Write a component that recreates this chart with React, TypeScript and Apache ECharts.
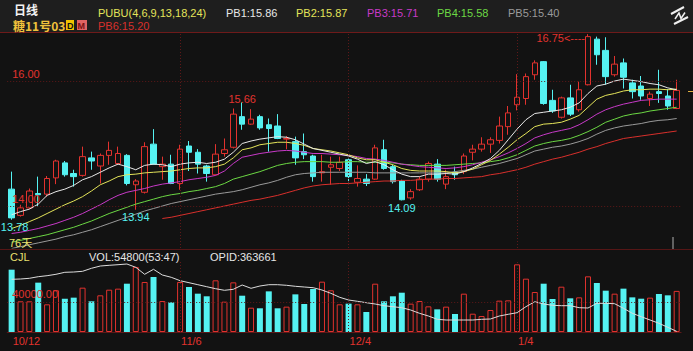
import React, { useEffect, useRef } from 'react';
import * as echarts from 'echarts';

// ---------- data ----------
const dates = [
  '10/12','10/13','10/14','10/15','10/16','10/19','10/20','10/21','10/22','10/23',
  '10/26','10/27','10/28','10/29','10/30','11/2','11/3','11/4','11/5','11/6',
  '11/9','11/10','11/11','11/12','11/13','11/16','11/17','11/18','11/19','11/20',
  '11/23','11/24','11/25','11/27','11/30','12/1','12/2','12/3','12/4','12/7',
  '12/8','12/9','12/10','12/11','12/14','12/15','12/16','12/17','12/18','12/21',
  '12/22','12/23','12/24','12/28','12/29','12/30','12/31','1/4','1/5','1/6',
  '1/7','1/8','1/11','1/12','1/13','1/14','1/15','1/19','1/20','1/21',
  '1/22','1/25','1/26','1/27','1/28','1/29',
];
const labelIdx = [0, 19, 38, 57];

const open = [
  14.27,13.85,13.97,14.20,14.19,14.45,14.69,14.52,14.49,14.77,
  14.64,14.81,14.68,14.81,14.34,14.22,14.99,14.63,14.67,14.36,
  14.96,14.86,14.64,14.50,14.84,14.94,15.43,15.31,15.43,15.30,
  15.28,15.07,15.03,14.87,14.80,14.53,14.62,14.60,14.74,14.38,
  14.43,14.43,14.90,14.63,14.40,14.13,14.26,14.43,14.67,14.35,
  14.54,14.55,14.86,14.91,14.99,15.05,15.27,15.62,15.72,16.10,
  16.31,15.69,15.42,15.73,15.54,15.94,16.67,16.49,16.10,16.29,
  15.97,15.92,15.72,15.83,15.76,15.56,
];
const close = [
  13.81,13.97,14.24,14.18,14.44,14.72,14.50,14.47,14.79,14.72,
  14.81,14.89,14.84,14.36,14.40,14.95,14.67,14.67,14.36,14.91,
  14.86,14.67,14.52,14.83,14.90,15.47,15.31,15.39,15.25,15.24,
  15.08,15.08,14.77,14.82,14.47,14.55,14.66,14.70,14.47,14.44,
  14.36,14.93,14.60,14.39,14.10,14.23,14.43,14.68,14.43,14.47,
  14.50,14.80,14.91,14.99,15.06,15.28,15.49,15.74,16.07,16.29,
  15.64,15.52,15.73,15.47,15.86,16.71,16.42,16.07,16.27,16.06,
  15.83,15.76,15.79,15.80,15.60,15.85,
];
const low = [
  13.78,13.83,13.95,13.99,14.15,14.35,14.47,14.31,14.47,14.58,
  14.36,14.66,14.66,14.33,13.94,14.20,14.66,14.42,14.35,14.26,
  14.56,14.52,14.39,14.49,14.79,14.92,15.22,15.30,15.22,14.87,
  15.07,14.91,14.66,14.75,14.39,14.39,14.34,14.56,14.38,14.31,
  14.32,14.42,14.58,14.36,14.09,14.10,14.24,14.39,14.39,14.27,
  14.42,14.51,14.73,14.87,14.85,15.00,15.14,15.53,15.62,16.02,
  15.62,15.49,15.40,15.44,15.51,15.93,16.26,15.94,16.07,15.88,
  15.72,15.70,15.60,15.65,15.54,15.55,
];
const high = [
  14.55,14.02,14.28,14.47,14.48,14.74,14.72,14.58,14.95,14.87,
  14.84,15.03,14.95,14.83,14.43,15.02,15.23,14.79,14.82,14.98,
  15.04,14.91,14.66,14.99,15.08,15.56,15.66,15.55,15.46,15.40,
  15.47,15.12,15.11,15.16,14.82,14.82,14.79,14.79,14.76,14.65,
  14.51,14.98,15.06,14.66,14.42,14.27,14.47,14.71,14.75,14.58,
  14.63,14.84,14.98,15.10,15.10,15.43,15.60,16.11,16.12,16.33,
  16.32,15.86,15.75,15.94,15.99,16.75,16.71,16.70,16.40,16.36,
  16.02,16.08,15.83,16.18,15.87,16.02,
];

const pb1 = [
  13.86,13.91,13.95,14.03,14.17,14.23,14.27,14.33,14.42,14.47,
  14.54,14.61,14.67,14.63,14.58,14.65,14.67,14.66,14.63,14.67,
  14.69,14.70,14.68,14.70,14.75,14.86,15.00,15.04,15.07,15.09,
  15.11,15.10,15.06,14.99,14.92,14.89,14.86,14.83,14.80,14.75,
  14.68,14.71,14.66,14.58,14.51,14.47,14.47,14.51,14.51,14.52,
  14.51,14.55,14.61,14.68,14.76,14.89,15.06,15.23,15.38,15.48,
  15.50,15.52,15.54,15.58,15.65,15.80,15.92,15.95,16.00,16.03,
  16.01,15.99,15.96,15.94,15.89,15.86,
];
const pb2 = [
  13.64,13.69,13.75,13.81,13.88,13.95,14.02,14.08,14.15,14.24,
  14.34,14.40,14.47,14.50,14.51,14.53,14.54,14.55,14.56,14.58,
  14.60,14.61,14.61,14.63,14.67,14.77,14.90,14.93,14.98,15.00,
  15.02,15.02,15.00,14.97,14.92,14.90,14.88,14.85,14.82,14.77,
  14.74,14.74,14.70,14.66,14.60,14.57,14.56,14.56,14.56,14.55,
  14.53,14.55,14.59,14.66,14.73,14.83,14.94,15.06,15.16,15.27,
  15.31,15.32,15.34,15.39,15.45,15.58,15.71,15.77,15.80,15.84,
  15.86,15.86,15.87,15.87,15.86,15.87,
];
const pb3 = [
  13.56,13.58,13.61,13.64,13.68,13.72,13.77,13.82,13.88,13.95,
  14.02,14.10,14.17,14.22,14.25,14.28,14.32,14.35,14.37,14.39,
  14.42,14.44,14.46,14.49,14.56,14.68,14.78,14.81,14.84,14.86,
  14.88,14.89,14.88,14.86,14.84,14.84,14.83,14.82,14.81,14.79,
  14.76,14.75,14.73,14.70,14.67,14.65,14.63,14.62,14.61,14.60,
  14.61,14.63,14.66,14.70,14.74,14.79,14.85,14.92,15.00,15.09,
  15.14,15.18,15.21,15.24,15.30,15.38,15.47,15.54,15.59,15.63,
  15.66,15.69,15.70,15.71,15.71,15.71,
];
const pb4 = [
  13.42,13.45,13.48,13.51,13.54,13.58,13.62,13.66,13.71,13.76,
  13.82,13.88,13.93,13.98,14.03,14.07,14.11,14.15,14.18,14.20,
  14.23,14.25,14.28,14.31,14.36,14.43,14.47,14.51,14.55,14.60,
  14.65,14.68,14.70,14.71,14.71,14.71,14.70,14.70,14.71,14.71,
  14.70,14.70,14.70,14.69,14.67,14.66,14.65,14.65,14.65,14.65,
  14.66,14.67,14.68,14.69,14.71,14.73,14.77,14.82,14.89,14.96,
  15.00,15.03,15.05,15.08,15.13,15.19,15.26,15.34,15.39,15.44,
  15.47,15.49,15.52,15.54,15.56,15.58,
];
const pb5 = [
  13.32,13.35,13.38,13.41,13.44,13.47,13.51,13.54,13.58,13.62,
  13.67,13.72,13.77,13.82,13.87,13.92,13.96,14.00,14.04,14.07,
  14.10,14.13,14.16,14.19,14.21,14.23,14.26,14.30,14.34,14.37,
  14.41,14.46,14.50,14.52,14.53,14.54,14.54,14.54,14.54,14.54,
  14.54,14.53,14.53,14.53,14.53,14.53,14.53,14.53,14.53,14.53,
  14.55,14.57,14.59,14.62,14.65,14.68,14.72,14.76,14.82,14.88,
  14.91,14.94,14.96,14.99,15.03,15.08,15.15,15.21,15.25,15.28,
  15.30,15.32,15.35,15.37,15.38,15.40,
];
const pb6 = [
  null,null,null,null,null,null,null,null,null,null,
  null,null,null,null,null,null,null,13.80,13.82,13.85,
  13.88,13.91,13.94,13.97,14.00,14.03,14.06,14.09,14.11,14.14,
  14.17,14.21,14.25,14.29,14.32,14.34,14.35,14.36,14.36,14.37,
  14.38,14.39,14.40,14.40,14.41,14.41,14.42,14.43,14.43,14.44,
  14.44,14.45,14.46,14.47,14.50,14.52,14.55,14.58,14.62,14.67,
  14.71,14.75,14.78,14.82,14.86,14.91,14.95,15.00,15.04,15.08,
  15.10,15.12,15.14,15.16,15.18,15.20,
];

const vol = [
  83100,40900,40900,65800,36900,55600,44400,45800,59100,40900,
  48900,56400,57800,64400,86700,66700,73300,41300,39600,66700,
  60000,51100,47600,68900,40400,66200,48400,32400,31600,54200,
  31600,33800,50200,37300,57300,67100,55600,36900,37800,36900,
  26700,64400,40900,47600,52400,37800,41300,34200,30200,33800,
  24000,51100,24400,21300,29300,41800,42200,90200,71100,53300,
  64400,44000,60400,44900,46200,74200,65300,55100,51100,57800,
  46200,44400,45800,50700,48900,54800,
];
const oi = [
  415700,416000,416700,418300,419300,420700,422700,423000,423700,426700,
  429000,429700,430300,431000,427700,420700,425700,420000,417700,414300,
  412300,410300,408300,406300,404700,405700,410000,406700,409000,410300,
  410300,409700,408700,408000,407300,405000,401700,397700,395000,393700,
  392300,391000,389300,388300,387300,385000,381700,379000,375700,375000,
  375000,375000,375000,375700,376000,379000,380700,382300,388300,393300,
  391000,389700,389300,389300,387300,387000,391700,391700,391300,386700,
  381700,378300,375000,371700,367700,363661,
];
const volGridValue = 40000;
const priceGridValues = [16, 14];
const indicatorName = 'PUBU(4,6,9,13,18,24)';
const contractName = '糖11号03';
const periodName = '日线';
const buySell = '53:47';

// ---------- styles ----------
const BG = '#121212';
const HEAD_BG = '#1e1e1e';
const RED = '#e2322e';
const CYAN = '#55f2f2';
const GRID_RED = '#5e1818';
const FONT = '"Liberation Sans", Arial, sans-serif';
const CJK = '"Noto Sans CJK SC", sans-serif';
const C_PB1 = '#e8e8e8';
const C_PB2 = '#e4e45a';
const C_PB3 = '#c83ac8';
const C_PB4 = '#6cd844';
const C_PB5 = '#9a9a9a';
const C_PB6 = '#d8302c';
const YELLOW = '#e8e070';

const txt = (text: string, x: number, y: number, fill: string, size = 11, weight = 'normal', family = FONT) => ({
  type: 'text', x, y, silent: true, z: 50,
  style: { text, fill, font: `${weight} ${size}px ${family}`, verticalAlign: 'middle', textVerticalAlign: 'middle' },
});

export default function App() {
  const ref = useRef<HTMLDivElement>(null);
  useEffect(() => {
    const chart = echarts.init(ref.current!, null, { renderer: 'svg' });
    const last = dates.length - 1;
    const gridLeft = 7.2;
    const gridRight = 11.9;
    const nulls = dates.map(() => null);
    const vLines = [19, 38, 57].map((i) => ({ xAxis: dates[i], label: { show: false } }));
    const lineSeries = (data: (number | null)[], color: string) => ({
      type: 'line', data, xAxisIndex: 0, yAxisIndex: 0, symbol: 'none', z: 4, silent: true,
      lineStyle: { color, width: 1 }, connectNulls: false,
    });
    const ptLabel = (color: string, position: string, text: string, extra: any = {}) => ({
      show: true, position, color, fontSize: 11, fontFamily: FONT, formatter: text, distance: 2, ...extra,
    });

    const option: any = {
      animation: false,
      backgroundColor: BG,
      grid: [
        { left: gridLeft, right: gridRight, top: 33, height: 215 },
        { left: gridLeft, right: gridRight, top: 262, height: 70 },
      ],
      xAxis: [
        { type: 'category', gridIndex: 0, data: dates, boundaryGap: true, show: false },
        {
          type: 'category', gridIndex: 1, data: dates, boundaryGap: true,
          axisLine: { show: true, lineStyle: { color: GRID_RED } },
          axisTick: { show: false },
          splitLine: { show: false },
          axisLabel: {
            interval: (index: number) => labelIdx.includes(index),
            color: RED, fontSize: 11, fontFamily: FONT, align: 'left', margin: 3, padding: [0, 0, 0, 1],
          },
        },
      ],
      yAxis: [
        { type: 'value', gridIndex: 0, min: 13.328, max: 16.768, show: false },
        { type: 'value', gridIndex: 1, min: 0, max: 93333, show: false },
        { type: 'value', gridIndex: 1, min: 363000, max: 433000, show: false },
      ],
      series: [
        {
          type: 'line', data: nulls, xAxisIndex: 0, yAxisIndex: 0, z: 1, silent: true, symbol: 'none',
          markLine: {
            silent: true, symbol: ['none', 'none'], animation: false,
            lineStyle: { color: GRID_RED, width: 1, type: [1, 2] },
            label: {
              show: true, position: 'insideStartTop', color: RED, fontSize: 11, fontFamily: FONT,
              formatter: (p: any) => Number(p.value).toFixed(2), distance: [5, 2],
            },
            data: [...priceGridValues.map((v) => ({ yAxis: v })), ...vLines],
          },
        },
        {
          type: 'candlestick', xAxisIndex: 0, yAxisIndex: 0, z: 3, silent: true, barWidth: 6,
          data: dates.map((_, i) => [open[i], close[i], low[i], high[i]]),
          itemStyle: { color: 'transparent', color0: CYAN, borderColor: RED, borderColor0: CYAN, borderWidth: 1 },
          markPoint: {
            silent: true, symbol: 'circle', symbolSize: 0, itemStyle: { color: 'transparent' },
            data: [
              { coord: [dates[65], high[65]], label: ptLabel(RED, 'left', `${high[65].toFixed(2)}<----`, { distance: 3, offset: [0, 4] }) },
              { coord: [dates[26], high[26]], label: ptLabel(RED, 'top', high[26].toFixed(2), { distance: 0, offset: [0, 2] }) },
              { coord: [dates[0], low[0]], label: ptLabel(CYAN, 'bottom', low[0].toFixed(2), { offset: [3, 0] }) },
              { coord: [dates[14], low[14]], label: ptLabel(CYAN, 'bottom', low[14].toFixed(2)) },
              { coord: [dates[44], low[44]], label: ptLabel(CYAN, 'bottom', low[44].toFixed(2)) },
            ],
          },
        },
        lineSeries(pb6, C_PB6),
        lineSeries(pb5, C_PB5),
        lineSeries(pb4, C_PB4),
        lineSeries(pb3, C_PB3),
        lineSeries(pb2, C_PB2),
        lineSeries(pb1, C_PB1),
        {
          type: 'line', data: nulls, xAxisIndex: 1, yAxisIndex: 1, z: 1, silent: true, symbol: 'none',
          markLine: {
            silent: true, symbol: ['none', 'none'], animation: false,
            lineStyle: { color: GRID_RED, width: 1, type: [1, 2] },
            label: {
              show: true, position: 'insideStartTop', color: RED, fontSize: 11, fontFamily: FONT,
              formatter: (p: any) => Number(p.value).toFixed(2), distance: [5, 2],
            },
            data: [{ yAxis: volGridValue }, ...vLines],
          },
        },
        {
          type: 'bar', xAxisIndex: 1, yAxisIndex: 1, z: 3, silent: true, barWidth: 6,
          data: vol.map((v, i) => ({
            value: v,
            itemStyle: close[i] >= open[i]
              ? { color: 'transparent', borderColor: RED, borderWidth: 1 }
              : { color: CYAN },
          })),
        },
        {
          type: 'line', data: oi, xAxisIndex: 1, yAxisIndex: 2, z: 4, silent: true, symbol: 'none',
          lineStyle: { color: '#dcdcdc', width: 1 },
        },
      ],
      graphic: [
        { type: 'rect', silent: true, z: 0, shape: { x: 0, y: 0, width: 693, height: 32 }, style: { fill: HEAD_BG } },
        { type: 'line', silent: true, z: 1, shape: { x1: 0, y1: 32.5, x2: 693, y2: 32.5 }, style: { stroke: '#6e1a1a', lineWidth: 1 } },
        { type: 'line', silent: true, z: 1, shape: { x1: 0, y1: 249.5, x2: 693, y2: 249.5 }, style: { stroke: '#561616', lineWidth: 1 } },
        txt(periodName, 14, 9.5, '#f2f2f2', 12, 'bold', CJK),
        txt(contractName, 13, 25, '#f0c23c', 12, 'bold', CJK),
        { type: 'rect', silent: true, z: 50, shape: { x: 66, y: 20, width: 8, height: 10 }, style: { fill: '#f0c400' } },
        txt('D', 67, 25.5, '#111111', 9, 'bold'),
        { type: 'rect', silent: true, z: 50, shape: { x: 77, y: 20, width: 10, height: 10 }, style: { fill: '#e26464' } },
        txt('M', 77.6, 25.5, '#7a1212', 9, 'bold'),
        txt(indicatorName, 98, 12.5, C_PB2),
        txt(`PB6:${pb6[last]!.toFixed(2)}`, 98, 25.5, C_PB6),
        txt(`PB1:${pb1[last].toFixed(2)}`, 226, 12.5, C_PB1),
        txt(`PB2:${pb2[last].toFixed(2)}`, 296, 12.5, C_PB2),
        txt(`PB3:${pb3[last].toFixed(2)}`, 367, 12.5, C_PB3),
        txt(`PB4:${pb4[last].toFixed(2)}`, 437, 12.5, C_PB4),
        txt(`PB5:${pb5[last].toFixed(2)}`, 508, 12.5, C_PB5),
        { type: 'line', silent: true, z: 50, shape: { x1: 671, y1: 14, x2: 684, y2: 7 }, style: { stroke: '#f0f0f0', lineWidth: 2 } },
        { type: 'line', silent: true, z: 50, shape: { x1: 674, y1: 24, x2: 688, y2: 17 }, style: { stroke: '#f0f0f0', lineWidth: 2 } },
        { type: 'polyline', silent: true, z: 50, shape: { points: [[675, 19], [679, 13], [681, 18.5], [685, 12.5]] }, style: { stroke: '#f0f0f0', lineWidth: 1.5, fill: 'none' } },
        txt(`${dates.length}天`, 9, 241.5, YELLOW, 11, 'normal', CJK),
        txt('CJL', 10, 257, YELLOW),
        txt(`VOL:${vol[last]}(${buySell})`, 89, 257, '#e6e6e6'),
        txt(`OPID:${oi[last]}`, 210, 257, '#e6e6e6'),
        { type: 'line', silent: true, z: 50, shape: { x1: 673, y1: 237, x2: 673, y2: 249 }, style: { stroke: '#b0b0b0', lineWidth: 1 } },
        { type: 'line', silent: true, z: 50, shape: { x1: 688, y1: 91.5, x2: 693, y2: 91.5 }, style: { stroke: '#e0b040', lineWidth: 1 } },
      ],
    };
    chart.setOption(option);
    return () => chart.dispose();
  }, []);
  return <div ref={ref} style={{ position: 'absolute', left: 0, top: 0, width: 693, height: 351 }} />;
}
